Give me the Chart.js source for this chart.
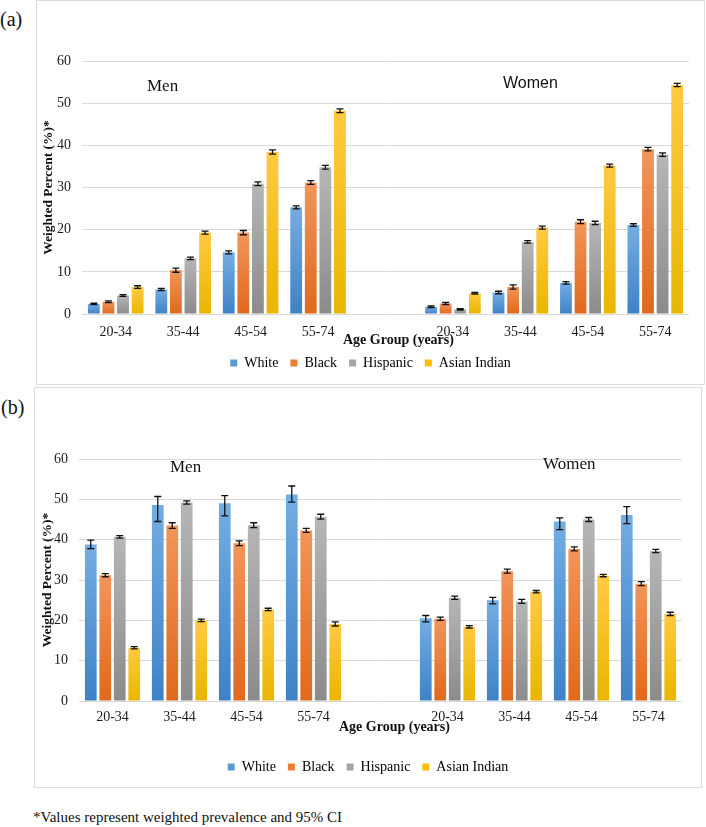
<!DOCTYPE html>
<html>
<head>
<meta charset="utf-8">
<script src="https://cdn.jsdelivr.net/npm/chart.js@4.4.1/dist/chart.umd.min.js"></script>
<style>
  html, body { margin: 0; padding: 0; background: #fff; }
  body { width: 706px; height: 827px; position: relative; overflow: hidden; font-family: 'Liberation Serif', 'Times New Roman', serif; color: #111; }
  .box { position: absolute; box-sizing: border-box; border: 1px solid #dcdcdc; }
  .wrap { position: absolute; }
  .txt { position: absolute; white-space: nowrap; line-height: 1; }
</style>
</head>
<body>
<div class="box" style="left:36px;top:0px;width:669px;height:385px;"></div>
<div class="box" style="left:34px;top:387px;width:668px;height:401px;"></div>
<div class="wrap" style="left:36px;top:0px;width:669px;height:385px;"><canvas id="chartA"></canvas></div>
<div class="wrap" style="left:34px;top:387px;width:668px;height:401px;"><canvas id="chartB"></canvas></div>

<div class="txt" style="left:0px;top:9px;font-size:20px;">(a)</div>
<div class="txt" style="left:1px;top:397px;font-size:20px;">(b)</div>
<div class="txt" style="left:147px;top:77px;font-size:17px;">Men</div>
<div class="txt" style="left:503px;top:75px;font-size:16px;font-family:'Liberation Sans',Arial,sans-serif;">Women</div>
<div class="txt" style="left:170px;top:458px;font-size:17px;">Men</div>
<div class="txt" style="left:543px;top:455px;font-size:17px;">Women</div>
<div class="txt" style="left:343px;top:333px;font-size:14px;font-weight:bold;">Age Group (years)</div>
<div class="txt" style="left:339px;top:720px;font-size:14px;font-weight:bold;">Age Group (years)</div>
<div class="txt" style="left:33px;top:810px;font-size:15px;">*Values represent weighted prevalence and 95% CI</div>

<script>
// ---------- Data ----------
const categories = ['20-34', '35-44', '45-54', '55-74', '', '20-34', '35-44', '45-54', '55-74'];
const seriesNames = ['White', 'Black', 'Hispanic', 'Asian Indian'];
const yTicks = [0, 10, 20, 30, 40, 50, 60];

// Panel (a)
const whiteA  = [2.4, 5.8, 14.6, 25.3, null, 1.7, 5.1, 7.4, 21.1];
const blackA  = [2.9, 10.4, 19.3, 31.2, null, 2.5, 6.4, 21.9, 39.1];
const hispA   = [4.4, 13.2, 30.9, 34.8, null, 1.1, 17.1, 21.6, 37.8];
const asianA  = [6.4, 19.3, 38.4, 48.2, null, 4.9, 20.5, 35.2, 54.3];
const whiteAErr = [0.15, 0.25, 0.35, 0.35, null, 0.2, 0.3, 0.3, 0.3];
const blackAErr = [0.2, 0.5, 0.5, 0.45, null, 0.25, 0.5, 0.45, 0.4];
const hispAErr  = [0.2, 0.3, 0.45, 0.45, null, 0.15, 0.3, 0.4, 0.4];
const asianAErr = [0.3, 0.35, 0.5, 0.45, null, 0.2, 0.35, 0.35, 0.4];

// Panel (b)
const whiteB  = [38.8, 48.6, 49.0, 51.2, null, 20.5, 25.0, 44.5, 46.1];
const blackB  = [31.2, 43.5, 39.1, 42.3, null, 20.4, 32.2, 37.7, 29.1];
const hispB   = [40.7, 49.2, 43.6, 45.7, null, 25.6, 24.7, 45.0, 37.2];
const asianB  = [13.2, 20.0, 22.7, 19.1, null, 18.4, 27.1, 31.1, 21.6];
const whiteBLow  = [37.8, 44.5, 45.9, 49.3, null, 19.6, 24.1, 42.5, 44.0];
const whiteBHigh = [39.9, 50.7, 50.9, 53.3, null, 21.2, 25.7, 45.4, 48.2];
const blackBErr = [0.4, 0.7, 0.6, 0.5, null, 0.4, 0.5, 0.5, 0.5];
const hispBErr  = [0.3, 0.4, 0.6, 0.6, null, 0.4, 0.5, 0.5, 0.4];
const asianBErr = [0.3, 0.3, 0.3, 0.5, null, 0.3, 0.3, 0.3, 0.4];

// ---------- Styles ----------
const solidColors = ['#5b9bd5', '#ed7d31', '#a5a5a5', '#ffc000'];
const topColors   = ['#74ade2', '#f2955a', '#b6b6b6', '#ffca42'];
const botColors   = ['#3e82c6', '#e0691c', '#8b8b8b', '#e9b600'];
const serif = "'Liberation Serif', 'Times New Roman', serif";

function gradientFill(i) {
  return (ctx) => {
    const chart = ctx.chart;
    if (ctx.type !== 'data' || !chart.chartArea) return solidColors[i];
    const v = ctx.raw;
    if (v == null) return solidColors[i];
    const ys = chart.scales.y;
    const y0 = ys.getPixelForValue(v), y1 = ys.getPixelForValue(0);
    if (!isFinite(y0) || !isFinite(y1) || Math.abs(y1 - y0) < 0.5) return solidColors[i];
    const g = chart.ctx.createLinearGradient(0, y0, 0, y1);
    g.addColorStop(0, topColors[i]);
    g.addColorStop(1, botColors[i]);
    return g;
  };
}

const errorBars = {
  id: 'errorBars',
  afterDatasetsDraw(chart) {
    const ctx = chart.ctx, ys = chart.scales.y;
    chart.data.datasets.forEach((ds, i) => {
      const meta = chart.getDatasetMeta(i);
      meta.data.forEach((bar, j) => {
        const v = ds.data[j];
        if (v == null) return;
        const lo = ds.ciLow[j], hi = ds.ciHigh[j];
        const yT = ys.getPixelForValue(hi), yB = ys.getPixelForValue(lo);
        const x = bar.x, c = 3.5;
        ctx.save();
        ctx.strokeStyle = '#111';
        ctx.lineWidth = 1.3;
        ctx.beginPath();
        ctx.moveTo(x, yT); ctx.lineTo(x, yB);
        ctx.moveTo(x - c, yT); ctx.lineTo(x + c, yT);
        ctx.moveTo(x - c, yB); ctx.lineTo(x + c, yB);
        ctx.stroke();
        ctx.restore();
      });
    });
  }
};

function makeDatasets(vals, lows, highs) {
  return vals.map((d, i) => ({
    label: seriesNames[i],
    data: d,
    ciLow: lows[i],
    ciHigh: highs[i],
    backgroundColor: gradientFill(i),
    borderWidth: 0,
    categoryPercentage: 0.865,
    barPercentage: 0.81
  }));
}
function sym(vals, err, sign) {
  return vals.map((v, k) => v == null ? null : +(v + sign * err[k]).toFixed(2));
}

function makeChart(id, datasets, cfg) {
  return new Chart(document.getElementById(id), {
    type: 'bar',
    data: { labels: categories, datasets },
    plugins: [errorBars],
    options: {
      responsive: true,
      maintainAspectRatio: false,
      animation: false,
      layout: { padding: { top: cfg.top, right: 0, bottom: cfg.bottom, left: 0 } },
      plugins: {
        tooltip: { enabled: false },
        legend: {
          position: 'bottom',
          labels: {
            font: { family: serif, size: 14 },
            color: '#1a1a1a',
            boxWidth: 7,
            boxHeight: 7,
            padding: 12,
            generateLabels: (chart) => chart.data.datasets.map((ds, i) => ({
              text: ds.label, fillStyle: solidColors[i], strokeStyle: solidColors[i],
              lineWidth: 0, hidden: false, datasetIndex: i
            }))
          }
        }
      },
      scales: {
        x: {
          grid: { display: false, drawTicks: false },
          border: { display: false },
          ticks: { font: { family: serif, size: 14 }, color: '#1a1a1a', padding: cfg.xPad, maxRotation: 0, autoSkip: false },
          afterFit: (s) => { s.height = cfg.xH; }
        },
        y: {
          min: 0, max: 60,
          afterBuildTicks: (s) => { s.ticks = yTicks.map(v => ({ value: v })); },
          grid: { color: '#d9d9d9', lineWidth: 1, drawTicks: false },
          border: { display: false },
          ticks: { font: { family: serif, size: 14 }, color: '#1a1a1a', padding: 11 },
          title: {
            display: true, text: 'Weighted Percent (%)*',
            font: { family: serif, size: 13.5, weight: 'bold' }, color: '#111',
            padding: { top: cfg.titlePad, bottom: 0 }
          },
          afterFit: (s) => { s.width = cfg.yW; }
        },
        yRight: {
          position: 'right', min: 0, max: 60,
          grid: { display: false, drawTicks: false },
          border: { display: false },
          ticks: { display: false },
          afterFit: (s) => { s.width = cfg.rightW; }
        }
      }
    }
  });
}

const dsA = makeDatasets(
  [whiteA, blackA, hispA, asianA],
  [sym(whiteA, whiteAErr, -1), sym(blackA, blackAErr, -1), sym(hispA, hispAErr, -1), sym(asianA, asianAErr, -1)],
  [sym(whiteA, whiteAErr, 1), sym(blackA, blackAErr, 1), sym(hispA, hispAErr, 1), sym(asianA, asianAErr, 1)]
);
const dsB = makeDatasets(
  [whiteB, blackB, hispB, asianB],
  [whiteBLow, sym(blackB, blackBErr, -1), sym(hispB, hispBErr, -1), sym(asianB, asianBErr, -1)],
  [whiteBHigh, sym(blackB, blackBErr, 1), sym(hispB, hispBErr, 1), sym(asianB, asianBErr, 1)]
);

makeChart('chartA', dsA, { top: 61, bottom: 5, xH: 30, xPad: 10, yW: 46, rightW: 16, titlePad: 4 });
makeChart('chartB', dsB, { top: 72, bottom: 4, xH: 47, xPad: 8, yW: 45, rightW: 20, titlePad: 5 });
</script>
</body>
</html>
